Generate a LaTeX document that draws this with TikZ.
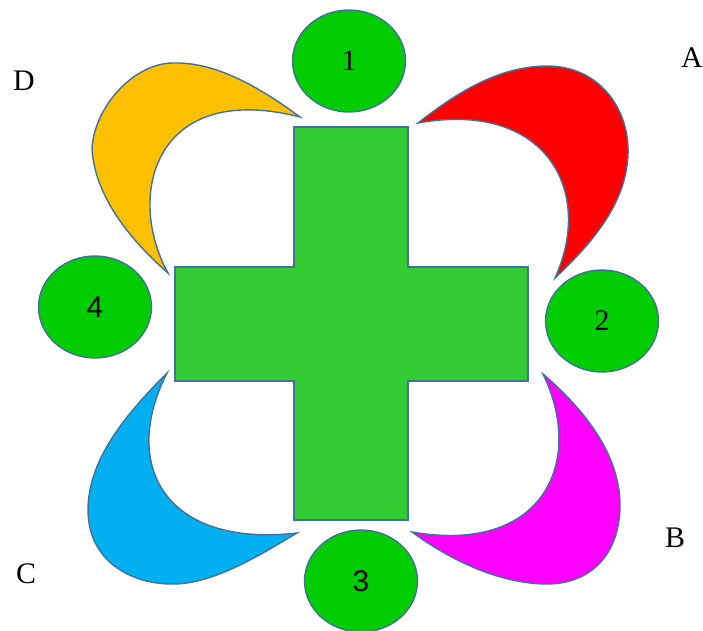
\documentclass[tikz,border=0pt]{standalone}
\usepackage{fontspec}
\setmainfont{Liberation Serif}
\newfontfamily\sanschiffre{Liberation Sans}
\usetikzlibrary{shapes.geometric}

\definecolor{bord}{HTML}{41719C}
\definecolor{croixvert}{HTML}{33CC33}
\definecolor{disquevert}{HTML}{00CC00}
\definecolor{petaleA}{HTML}{FF0000}
\definecolor{petaleB}{HTML}{FF00FF}
\definecolor{petaleC}{HTML}{00B0F0}
\definecolor{petaleD}{HTML}{FFC000}

\tikzset{
  disque/.style={ellipse,draw=bord,line width=0.8pt,fill=disquevert,
    minimum width=2.26cm,minimum height=2.04cm,inner sep=0pt},
  petale/.style={draw=bord,line width=0.8pt},
  lettre/.style={inner sep=0pt}
}

\begin{document}
\begin{tikzpicture}[x=0.02cm,y=-0.02cm,font=\fontsize{17}{20}\selectfont]

\useasboundingbox (0,0) rectangle (703,630);

% Croix
\filldraw[draw=bord,line width=0.8pt,fill=croixvert]
(294,127) -- (408,127) -- (408,267) -- (528,267)
-- (528,381) -- (408,381) -- (408,520) -- (294,520)
-- (294,381) -- (175,381) -- (175,267) -- (294,267)
-- cycle;

% Pétale A
\filldraw[petale,fill=petaleA]
(418,123) .. controls (460,90) and (500,67) .. (545,66)
.. controls (600,65) and (630,110) .. (628,155)
.. controls (626,205) and (590,245) .. (555,278)
.. controls (595,190) and (545,100) .. (418,123)
-- cycle;

% Pétale B
\filldraw[petale,fill=petaleB]
(543,374) .. controls (585,410) and (620,455) .. (620,505)
.. controls (620,555) and (590,584) .. (547,584)
.. controls (500,584) and (450,560) .. (412,532)
.. controls (545,555) and (585,460) .. (543,374)
-- cycle;

% Pétale C
\filldraw[petale,fill=petaleC]
(167,373) .. controls (125,415) and (88,460) .. (88,510)
.. controls (88,560) and (130,585) .. (175,584)
.. controls (215,583) and (260,555) .. (297,533)
.. controls (165,548) and (120,465) .. (167,373)
-- cycle;

% Pétale D
\filldraw[petale,fill=petaleD]
(300,117) .. controls (250,80) and (210,62) .. (173,63)
.. controls (135,63) and (95,105) .. (92,148)
.. controls (94,195) and (130,240) .. (168,273)
.. controls (125,195) and (155,80) .. (300,117)
-- cycle;

% Disques
\node[disque] (d1) at (349,61) {1};
\node[disque] (d2) at (602,321) {2};
\node[disque] (d3) at (361,581) {\sanschiffre 3};
\node[disque] (d4) at (95,307) {\sanschiffre 4};

% Lettres
\node[lettre] (la) at (692,58) {A};
\node[lettre] (lb) at (675,538) {B};
\node[lettre] (lc) at (26,574) {C};
\node[lettre] (ld) at (24,81) {D};

\end{tikzpicture}
\end{document}
